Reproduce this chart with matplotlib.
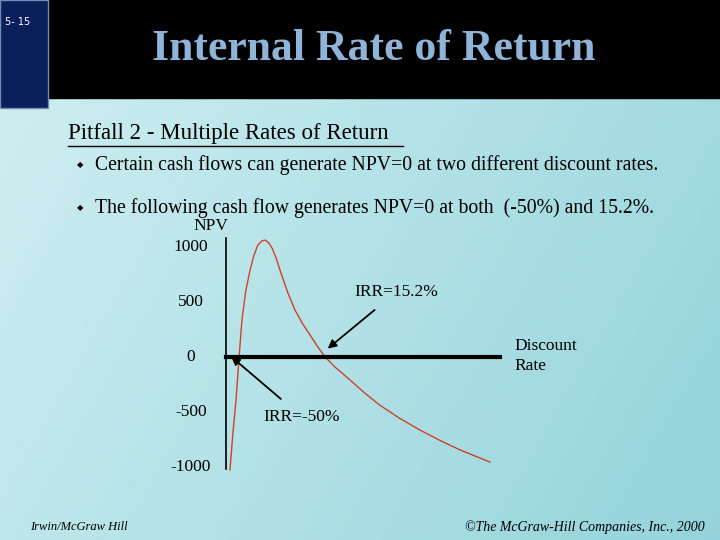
import numpy as np
import matplotlib.pyplot as plt
from matplotlib.patches import Rectangle

plt.rcParams['font.family'] = ['Liberation Serif', 'DejaVu Serif']

# NPV profile (rate in %, NPV)
rates = [-47.4, -45.5, -43.4, -41.5, -39.5, -37.0, -34.2, -31.5, -29.0, -26.5, -24.3,
         -22.0, -19.7, -17.0, -14.5, -9.5, -4.6, 0.5, 5.3, 10.0, 15.2,
         22.0, 31.6, 41.0, 51.0, 64.0, 77.6, 91.0, 104.0, 123.7]
npv = [-1027, -700, -390, -20, 336, 600, 790, 930, 1018, 1055, 1063,
       1040, 990, 900, 790, 590, 427, 300, 200, 100, 0,
       -95, -209, -325, -436, -555, -664, -760, -845, -955]
ytick_vals = [1000, 500, 0, -500, -1000]
ytick_labels = ['1000', '500', '0', '-500', '-1000']

fig = plt.figure(figsize=(7.2, 5.4), dpi=100)

# background slide
bg = fig.add_axes([0, 0, 1, 1])
bg.set_xlim(0, 720)
bg.set_ylim(540, 0)
bg.axis('off')
gx = np.linspace(0, 1, 200)
gy = np.linspace(0, 1, 150)
G = gx[None, :] * 0.7 + gy[:, None] * 0.3
c1 = np.array([0.82, 0.94, 0.95])
c2 = np.array([0.58, 0.83, 0.86])
img = c1[None, None, :] * (1 - G[..., None]) + c2[None, None, :] * G[..., None]
bg.imshow(img, extent=[0, 720, 540, 0], aspect='auto', zorder=0)
bg.add_patch(Rectangle((0, 0), 720, 98, color='black', zorder=1))
bg.add_patch(Rectangle((0, 0), 48, 108, facecolor='#0b1f5c', edgecolor='#6f8fb0', lw=1, zorder=2))

bg.text(5, 22, '5- 15', color='white', fontsize=7, family='DejaVu Sans', va='center', zorder=3)
bg.text(374, 49, 'Internal Rate of Return', color='#8fb4d8', fontsize=31.5, weight='bold',
        ha='center', va='center', zorder=3)
bg.text(68, 133, 'Pitfall 2 - Multiple Rates of Return', fontsize=16.5, va='center', zorder=3)
bg.plot([68, 403], [146, 146], color='black', lw=1, zorder=3)
for yy, s in [(165, 'Certain cash flows can generate NPV=0 at two different discount rates.'),
              (208, 'The following cash flow generates NPV=0 at both  (-50%) and 15.2%.')]:
    bg.text(80, yy, '\u25c6', fontsize=6, family='DejaVu Sans', ha='center', va='center', zorder=3)
    bg.text(95, yy, s, fontsize=14.2, va='center', zorder=3)
bg.text(30, 527, 'Irwin/McGraw Hill', fontsize=9, style='italic', va='center', zorder=3)
bg.text(705, 527, '\u00a9The McGraw-Hill Companies, Inc., 2000', fontsize=10, style='italic',
        ha='right', va='center', zorder=3)

# chart
ax = fig.add_axes([226 / 720, 1 - 478 / 540, 266 / 720, 242 / 540])
ax.patch.set_alpha(0)
ax.set_xlim(-50, 125)
ax.set_ylim(-1100, 1100)
ax.axis('off')
ax.plot(rates, npv, color='#d0402a', lw=1)
ax.plot([-50, -50], [1080, -1020], color='black', lw=1.2, clip_on=False)
ax.plot([-50, 130], [0, 0], color='black', lw=3, clip_on=False)
for v, s in zip(ytick_vals, ytick_labels):
    ax.text(-73, v, s, fontsize=12.5, ha='center', va='center', clip_on=False)
ax.text(-60, 1190, 'NPV', fontsize=12.5, ha='center', va='center', clip_on=False)
ax.text(140, 10, 'Discount\nRate', fontsize=12.5, ha='left', va='center', linespacing=1.3, clip_on=False)
ax.annotate('IRR=15.2%', xy=(15.5, 60), xytext=(62, 590), fontsize=12.5, ha='center', va='center',
            arrowprops=dict(arrowstyle='-|>', color='black', lw=1.3, shrinkA=8))
ax.annotate('IRR=-50%', xy=(-48, 20), xytext=(0, -545), fontsize=12.5, ha='center', va='center',
            arrowprops=dict(arrowstyle='-|>', color='black', lw=1.3, shrinkA=8))

fig.savefig('out.png', dpi=100)
